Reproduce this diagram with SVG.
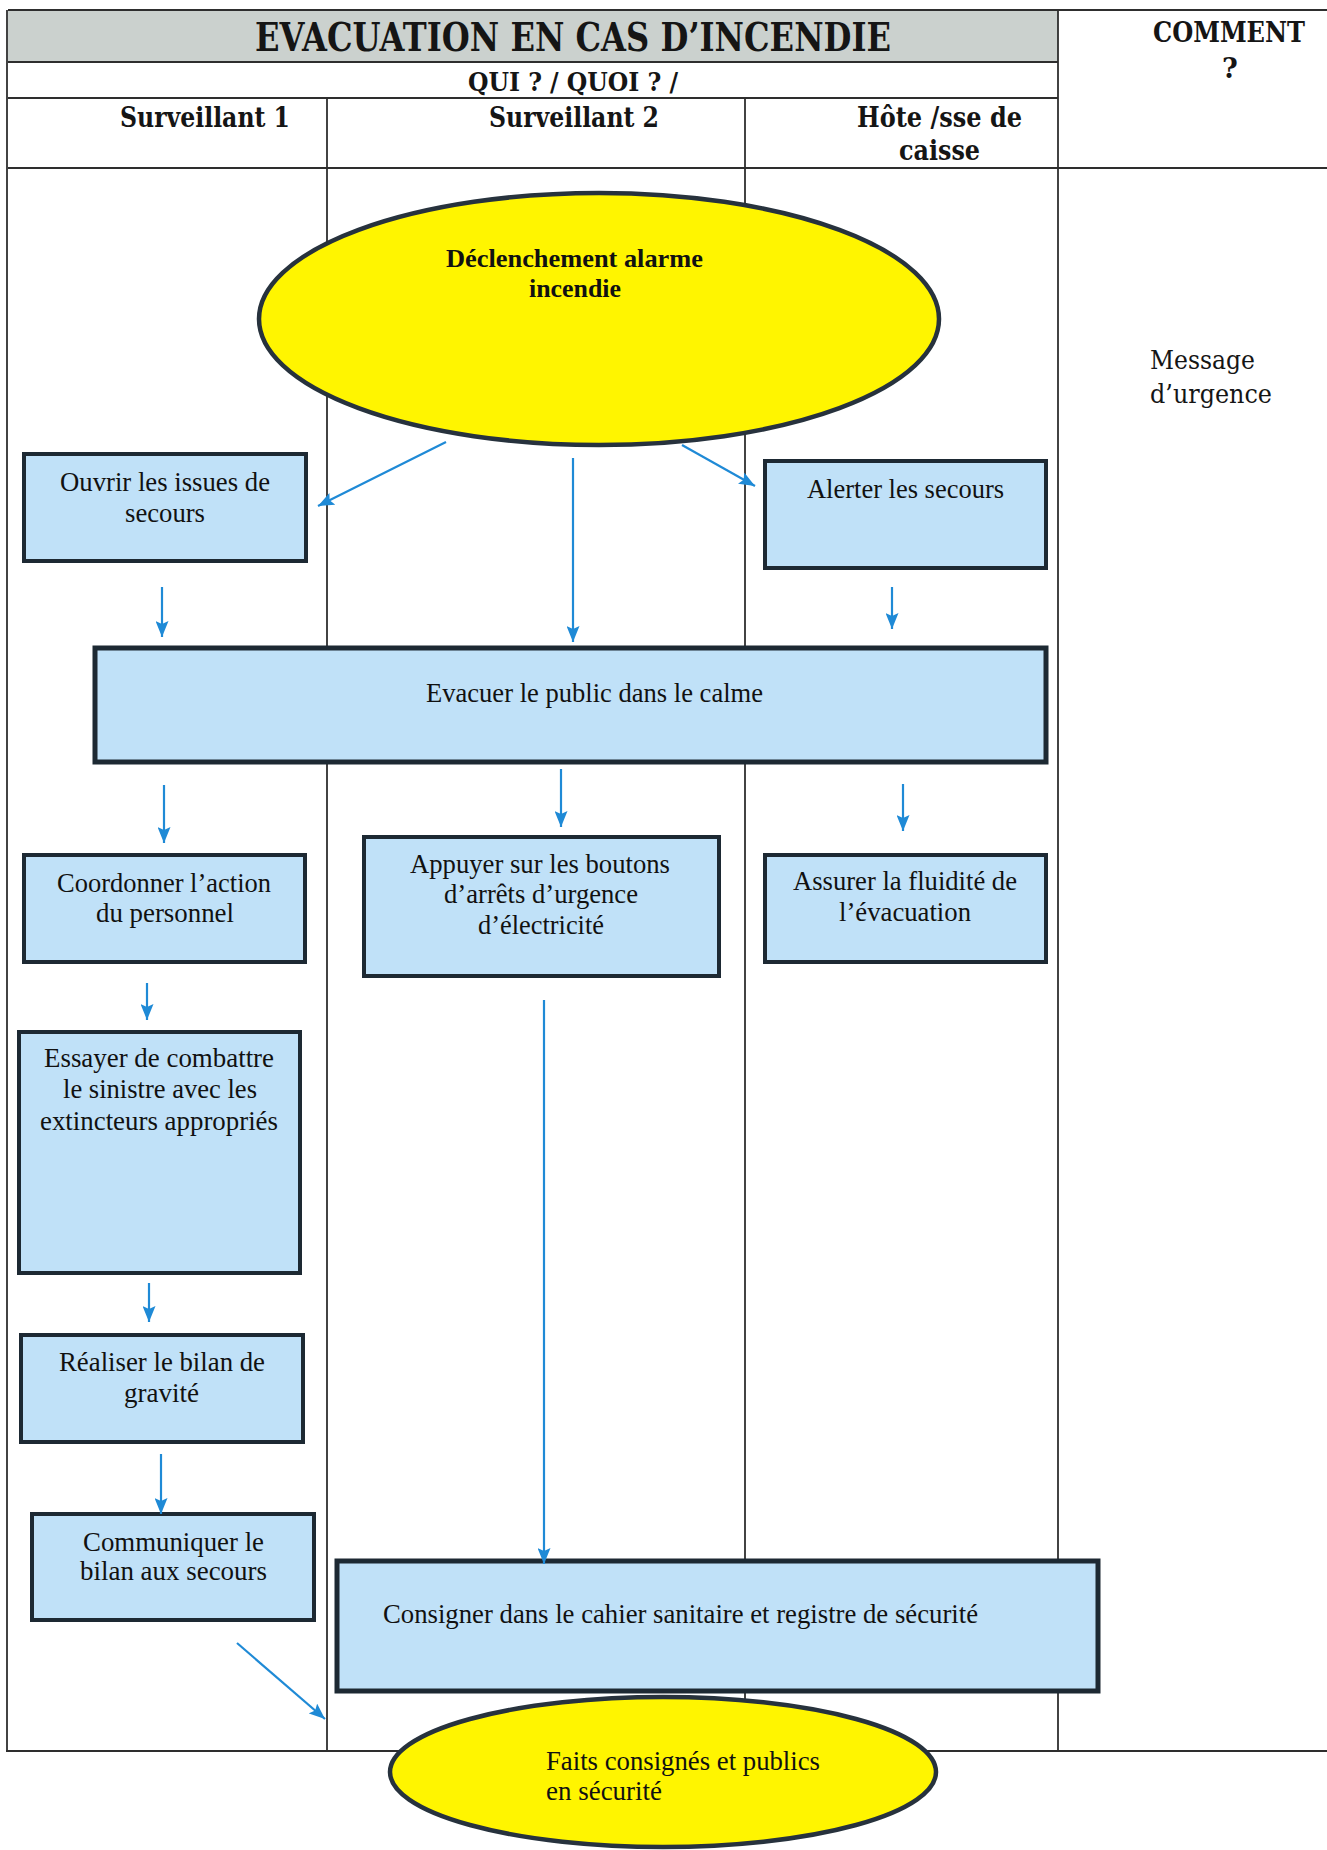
<svg xmlns="http://www.w3.org/2000/svg" width="1327" height="1850" viewBox="0 0 1327 1850">
<style>
.grid{stroke:#2e2e2e;stroke-width:1.8;fill:none}
.box{fill:#c0e1f8;stroke:#1d2933;stroke-width:4}
.boxb{fill:#c0e1f8;stroke:#1d2933;stroke-width:5}
.ell{fill:#fff500;stroke:#27323d;stroke-width:4.5}
.t{font-family:"Liberation Serif","Times New Roman",serif;font-size:27px;fill:#111}
.tb{font-family:"Liberation Serif","Times New Roman",serif;font-size:26px;font-weight:bold;fill:#111}
.h{font-family:"DejaVu Serif","Liberation Serif",serif;font-weight:bold;fill:#151515}
.m{font-family:"DejaVu Serif","Liberation Serif",serif;font-size:26px;fill:#151515}
.arr{stroke:#1f8ad6;stroke-width:2.2;fill:none;marker-end:url(#ah)}
</style>
<defs>
<marker id="ah" markerWidth="16" markerHeight="13" refX="16" refY="6.5" orient="auto" markerUnits="userSpaceOnUse">
<path d="M0,0 L16,6.5 L0,13 L3,6.5 z" fill="#1f8ad6"/>
</marker>
</defs>
<rect width="1327" height="1850" fill="#ffffff"/>
<g id="table">
<rect x="8" y="10" width="1050" height="52" fill="#cbd1ce"/>
<line class="grid" x1="8" y1="10" x2="1327" y2="10"/>
<line class="grid" x1="8" y1="62" x2="1058" y2="62"/>
<line class="grid" x1="8" y1="98" x2="1058" y2="98"/>
<line class="grid" x1="8" y1="168" x2="1327" y2="168"/>
<line class="grid" x1="7" y1="10" x2="7" y2="1751"/>
<line class="grid" x1="327" y1="98" x2="327" y2="1751"/>
<line class="grid" x1="745" y1="98" x2="745" y2="1751"/>
<line class="grid" x1="1058" y1="10" x2="1058" y2="1751"/>
<line class="grid" x1="6" y1="1751" x2="1327" y2="1751"/>
<text class="h" x="255" y="51" font-size="40" textLength="636" lengthAdjust="spacingAndGlyphs">EVACUATION EN CAS D’INCENDIE</text>
<text class="h" x="468" y="91" font-size="26" textLength="210" lengthAdjust="spacingAndGlyphs">QUI ? / QUOI ? /</text>
<text class="h" x="120" y="127" font-size="27" textLength="170" lengthAdjust="spacingAndGlyphs">Surveillant 1</text>
<text class="h" x="489" y="127" font-size="27" textLength="170" lengthAdjust="spacingAndGlyphs">Surveillant 2</text>
<text class="h" x="857" y="127" font-size="27" textLength="165" lengthAdjust="spacingAndGlyphs">Hôte /sse de</text>
<text class="h" x="899" y="160" font-size="27" textLength="81" lengthAdjust="spacingAndGlyphs">caisse</text>
<text class="h" x="1153" y="42" font-size="27" textLength="152" lengthAdjust="spacingAndGlyphs">COMMENT</text>
<text class="h" x="1230" y="78" font-size="27" text-anchor="middle">?</text>
<text class="m" x="1150" y="369" textLength="105" lengthAdjust="spacingAndGlyphs">Message</text>
<text class="m" x="1150" y="403" textLength="122" lengthAdjust="spacingAndGlyphs">d’urgence</text>
</g>
<g id="n-alarme">
<ellipse class="ell" cx="599" cy="319" rx="340" ry="126"/>
<text class="tb" x="446" y="267" textLength="257" lengthAdjust="spacingAndGlyphs">Déclenchement alarme</text>
<text class="tb" x="529" y="297" textLength="92" lengthAdjust="spacingAndGlyphs">incendie</text>
</g>
<g id="n-ouvrir">
<rect class="box" x="24" y="454" width="282" height="107"/>
<text class="t" x="60" y="491" textLength="210" lengthAdjust="spacingAndGlyphs">Ouvrir les issues de</text>
<text class="t" x="125" y="522" textLength="80" lengthAdjust="spacingAndGlyphs">secours</text>
</g>
<g id="n-alerter">
<rect class="box" x="765" y="461" width="281" height="107"/>
<text class="t" x="807" y="498" textLength="197" lengthAdjust="spacingAndGlyphs">Alerter les secours</text>
</g>
<g id="n-evacuer">
<rect class="boxb" x="95" y="648" width="951" height="114"/>
<text class="t" x="426" y="702" textLength="337" lengthAdjust="spacingAndGlyphs">Evacuer le public dans le calme</text>
</g>
<g id="n-coordonner">
<rect class="box" x="24" y="855" width="281" height="107"/>
<text class="t" x="57" y="892" textLength="214" lengthAdjust="spacingAndGlyphs">Coordonner l’action</text>
<text class="t" x="96" y="922" textLength="138" lengthAdjust="spacingAndGlyphs">du personnel</text>
</g>
<g id="n-appuyer">
<rect class="box" x="364" y="837" width="355" height="139"/>
<text class="t" x="410" y="873" textLength="260" lengthAdjust="spacingAndGlyphs">Appuyer sur les boutons</text>
<text class="t" x="444" y="903" textLength="194" lengthAdjust="spacingAndGlyphs">d’arrêts d’urgence</text>
<text class="t" x="478" y="934" textLength="126" lengthAdjust="spacingAndGlyphs">d’électricité</text>
</g>
<g id="n-assurer">
<rect class="box" x="765" y="855" width="281" height="107"/>
<text class="t" x="793" y="890" textLength="224" lengthAdjust="spacingAndGlyphs">Assurer la fluidité de</text>
<text class="t" x="839" y="921" textLength="132" lengthAdjust="spacingAndGlyphs">l’évacuation</text>
</g>
<g id="n-essayer">
<rect class="box" x="19" y="1032" width="281" height="241"/>
<text class="t" x="44" y="1067" textLength="230" lengthAdjust="spacingAndGlyphs">Essayer de combattre</text>
<text class="t" x="63" y="1098" textLength="194" lengthAdjust="spacingAndGlyphs">le sinistre avec les</text>
<text class="t" x="40" y="1130" textLength="238" lengthAdjust="spacingAndGlyphs">extincteurs appropriés</text>
</g>
<g id="n-realiser">
<rect class="box" x="21" y="1335" width="282" height="107"/>
<text class="t" x="59" y="1371" textLength="206" lengthAdjust="spacingAndGlyphs">Réaliser le bilan de</text>
<text class="t" x="124" y="1402" textLength="75" lengthAdjust="spacingAndGlyphs">gravité</text>
</g>
<g id="n-communiquer">
<rect class="box" x="32" y="1514" width="282" height="106"/>
<text class="t" x="83" y="1551" textLength="181" lengthAdjust="spacingAndGlyphs">Communiquer le</text>
<text class="t" x="80" y="1580" textLength="187" lengthAdjust="spacingAndGlyphs">bilan aux secours</text>
</g>
<g id="n-consigner">
<rect class="boxb" x="337" y="1561" width="761" height="130"/>
<text class="t" x="383" y="1623" textLength="595" lengthAdjust="spacingAndGlyphs">Consigner dans le cahier sanitaire et registre de sécurité</text>
</g>
<g id="n-faits">
<ellipse class="ell" cx="663" cy="1772" rx="273" ry="75"/>
<text class="t" x="546" y="1770" textLength="274" lengthAdjust="spacingAndGlyphs">Faits consignés et publics</text>
<text class="t" x="546" y="1800" textLength="116" lengthAdjust="spacingAndGlyphs">en sécurité</text>
</g>
<g id="connectors">
<line class="arr" x1="446" y1="442" x2="318" y2="506"/>
<line class="arr" x1="573" y1="458" x2="573" y2="642"/>
<line class="arr" x1="682" y1="445" x2="755" y2="486"/>
<line class="arr" x1="162" y1="587" x2="162" y2="637"/>
<line class="arr" x1="892" y1="587" x2="892" y2="629"/>
<line class="arr" x1="164" y1="785" x2="164" y2="843"/>
<line class="arr" x1="561" y1="769" x2="561" y2="827"/>
<line class="arr" x1="903" y1="784" x2="903" y2="831"/>
<line class="arr" x1="147" y1="983" x2="147" y2="1020"/>
<line class="arr" x1="544" y1="1000" x2="544" y2="1564"/>
<line class="arr" x1="149" y1="1283" x2="149" y2="1322"/>
<line class="arr" x1="161" y1="1454" x2="161" y2="1514"/>
<line class="arr" x1="237" y1="1643" x2="325" y2="1719"/>
</g>
</svg>
